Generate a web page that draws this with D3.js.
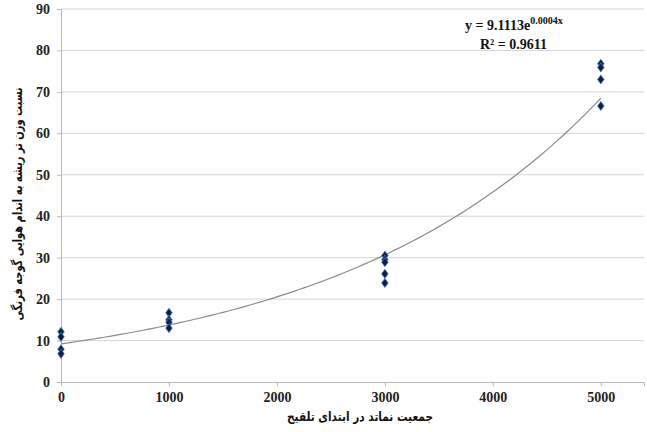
<!DOCTYPE html>
<html>
<head>
<meta charset="utf-8">
<script src="https://cdn.jsdelivr.net/npm/d3@7"></script>
<style>
  body { margin: 0; background: #fff; }
  svg { display: block; }
</style>
</head>
<body>
<div id="chart"></div>
<script>
  // nematode population at inoculation (x) and root/shoot ratio (y)
  const popX = [0, 0, 0, 0, 1000, 1000, 1000, 1000, 3000, 3000, 3000, 3000, 3000, 5000, 5000, 5000, 5000];
  const ratioY = [12.1, 10.9, 7.9, 6.8, 16.7, 15.0, 14.4, 13.0, 30.5, 29.5, 28.9, 26.1, 23.9, 76.8, 75.9, 73.0, 66.6];
  const xTicks = [0, 1000, 2000, 3000, 4000, 5000];
  const yTicks = [0, 10, 20, 30, 40, 50, 60, 70, 80, 90];
  const eqText = "y = 9.1113e";
  const eqExp = "0.0004x";
  const r2Text = "R² = 0.9611";
  const xTitle = "جمعیت  نماتد در ابتدای تلقیح";
  const yTitle = "نسبت وزن تر ریشه به اندام هوایی گوجه فرنگی";

  const W = 647, H = 432;
  const margin = { top: 9, right: 3, bottom: 50, left: 61 };
  const width = W - margin.left - margin.right;
  const height = H - margin.top - margin.bottom;

  const svg = d3.select("#chart").append("svg").attr("width", W).attr("height", H);
  const g = svg.append("g").attr("transform", `translate(${margin.left},${margin.top})`);

  const x = d3.scaleLinear().domain([0, 5400]).range([0, width]);
  const y = d3.scaleLinear().domain([0, 90]).range([height, 0]);

  // gridlines
  g.append("g")
    .selectAll("line")
    .data(yTicks.filter((d) => d > 0))
    .enter()
    .append("line")
    .attr("x1", 0)
    .attr("x2", width)
    .attr("y1", (d) => y(d))
    .attr("y2", (d) => y(d))
    .attr("stroke", "#d4d4d4")
    .attr("stroke-width", 1);

  const tickFont = (sel) =>
    sel.selectAll("text")
      .attr("font-family", "Liberation Serif, Times New Roman, serif")
      .attr("font-weight", "bold")
      .attr("font-size", 14)
      .attr("fill", "#222");

  const xAxis = g.append("g")
    .attr("transform", `translate(0,${height})`)
    .call(d3.axisBottom(x).tickValues(xTicks).tickSize(4).tickPadding(6).tickFormat(d3.format("d")));
  xAxis.select(".domain").attr("stroke", "#b8b8b8");
  xAxis.selectAll(".tick line").attr("stroke", "#b8b8b8");
  tickFont(xAxis);

  const yAxis = g.append("g")
    .call(d3.axisLeft(y).tickValues(yTicks).tickSize(4).tickPadding(7));
  yAxis.select(".domain").attr("stroke", "#b8b8b8");
  yAxis.selectAll(".tick line").attr("stroke", "#b8b8b8");
  tickFont(yAxis);

  // exponential trendline fitted to the points (least squares on ln y)
  const lnY = ratioY.map((v) => Math.log(v));
  const mx = d3.mean(popX), my = d3.mean(lnY);
  const b = d3.sum(popX, (v, i) => (v - mx) * (lnY[i] - my)) / d3.sum(popX, (v) => (v - mx) * (v - mx));
  const a = Math.exp(my - b * mx);
  const curveX = d3.range(0, 5001, 50);
  g.append("path")
    .datum(curveX)
    .attr("fill", "none")
    .attr("stroke", "#8a8a8a")
    .attr("stroke-width", 1.2)
    .attr("d", d3.line().x((d) => x(d)).y((d) => y(a * Math.exp(b * d))));

  // points
  const diamond = d3.symbol().type(d3.symbolDiamond).size(24);
  g.append("g")
    .selectAll("path")
    .data(popX)
    .enter()
    .append("path")
    .attr("d", diamond)
    .attr("transform", (d, i) => `translate(${x(d)},${y(ratioY[i])}) scale(1.25,1)`)
    .attr("fill", "#0d1f45")
    .attr("stroke", "#4a7fc0")
    .attr("stroke-width", 0.7);

  // equation
  const eq = svg.append("text")
    .attr("x", 465)
    .attr("y", 30)
    .attr("font-family", "Liberation Serif, Times New Roman, serif")
    .attr("font-weight", "bold")
    .attr("font-size", 14)
    .attr("fill", "#111");
  eq.append("tspan").text(eqText);
  eq.append("tspan").attr("dy", -6).attr("font-size", 10).text(eqExp);

  svg.append("text")
    .attr("x", 480)
    .attr("y", 49)
    .attr("font-family", "Liberation Serif, Times New Roman, serif")
    .attr("font-weight", "bold")
    .attr("font-size", 14)
    .attr("fill", "#111")
    .text(r2Text);

  // axis titles
  svg.append("text")
    .attr("x", 360)
    .attr("y", 421)
    .attr("text-anchor", "middle")
    .attr("direction", "rtl")
    .attr("font-family", "DejaVu Sans, sans-serif")
    .attr("font-weight", "bold")
    .attr("font-size", 13)
    .attr("textLength", 146)
    .attr("lengthAdjust", "spacingAndGlyphs")
    .attr("fill", "#111")
    .text(xTitle);

  svg.append("text")
    .attr("transform", "translate(22,204) rotate(-90)")
    .attr("text-anchor", "middle")
    .attr("direction", "rtl")
    .attr("font-family", "DejaVu Sans, sans-serif")
    .attr("font-weight", "bold")
    .attr("font-size", 13)
    .attr("textLength", 233)
    .attr("lengthAdjust", "spacingAndGlyphs")
    .attr("fill", "#111")
    .text(yTitle);
</script>
</body>
</html>
